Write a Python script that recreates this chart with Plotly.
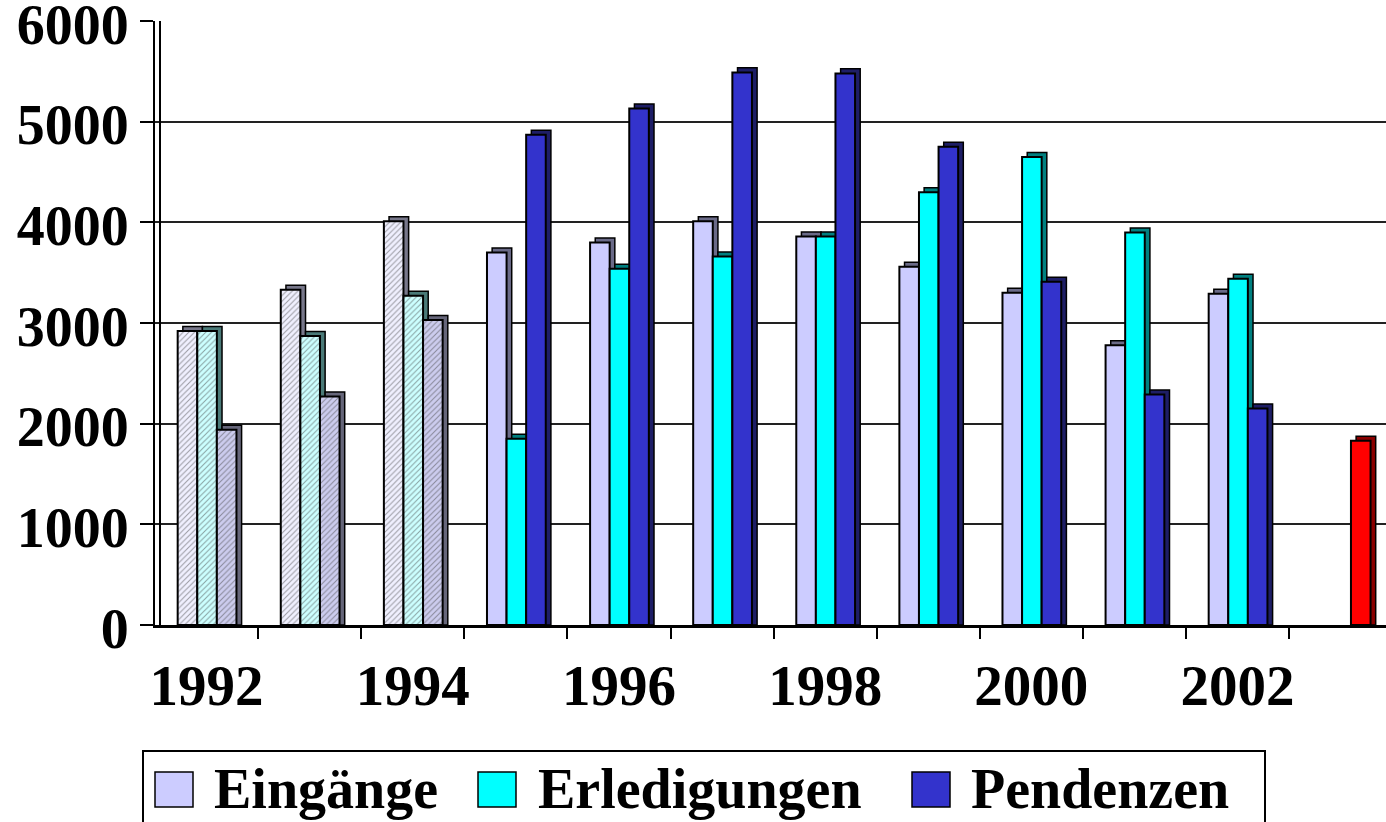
import plotly.graph_objects as go

# ---------------- data ----------------
years = [1992, 1993, 1994, 1995, 1996, 1997, 1998, 1999, 2000, 2001, 2002, 2003]
year_labels = ["1992", "1994", "1996", "1998", "2000", "2002"]
series_names = ["Eingänge", "Erledigungen", "Pendenzen"]
eingaenge = [2920, 3330, 4010, 3700, 3800, 4010, 3860, 3560, 3300, 2780, 3290, None]
erledigungen = [2920, 2870, 3270, 1850, 3540, 3660, 3860, 4300, 4650, 3900, 3440, None]
pendenzen = [1940, 2270, 3030, 4870, 5130, 5490, 5480, 4750, 3410, 2290, 2150, 1830]
y_ticks = [0, 1000, 2000, 3000, 4000, 5000, 6000]

# ---------------- layout constants (screen pixels) ----------------
W, H = 1386, 822
L, T, B = 155, 21, 625  # plot area edges
R = W
CAT_PX = 103.1
x_range = [years[0] - 0.5, years[0] - 0.5 + (R - L) / CAT_PX]
y_range = [0, 6000.5]
FONT = "Liberation Serif"
FS = 57
YFS = 56
LFS = 56

def px_x(px):
    return (px - L) / (R - L)

def px_y(py):
    return (B - py) / (B - T)

early = [y <= 1994 for y in years]

styles = [
    # front colour (early, late), side colour (early, late), hatch colour
    dict(front=("#F0F0FF", "#CCCCFF"), side=("#77778A", "#6A6A88"), hatch="#DCDCF4", offset=-0.28),
    dict(front=("#CCFFFF", "#00FFFF"), side=("#4A7A78", "#008080"), hatch="#B4F0F0", offset=-0.09),
    dict(front=("#CCCCEE", "#3333CC"), side=("#66667A", "#1E1E66"), hatch="#B8B8DC", offset=0.10),
]
special_front = {2003: "#FF0000"}
special_side = {2003: "#8A0000"}

BAR_W = 0.19
DX = 0.05
DY = 45

fig = go.Figure()
for name, vals, st in zip(series_names, [eingaenge, erledigungen, pendenzen], styles):
    fronts = [special_front.get(yr, st["front"][0] if e else st["front"][1]) for yr, e in zip(years, early)]
    sides = [special_side.get(yr, st["side"][0] if e else st["side"][1]) for yr, e in zip(years, early)]
    depth_vals = [v + DY if v is not None else None for v in vals]
    # depth (side + top face)
    fig.add_trace(go.Bar(
        x=years, y=depth_vals, width=BAR_W, offset=st["offset"] + DX,
        marker=dict(color=sides, line=dict(color="black", width=1.5)),
        showlegend=False, hoverinfo="skip",
    ))
    # front face
    fig.add_trace(go.Bar(
        x=years, y=vals, width=BAR_W, offset=st["offset"], name=name,
        marker=dict(
            color=fronts,
            line=dict(color="black", width=2),
            pattern=dict(shape=["/" if e else "" for e in early], fgcolor=st["hatch"],
                         size=4, solidity=0.25),
        ),
        showlegend=False,
    ))

# second vertical axis line (double line look)
shapes = [dict(type="line", xref="paper", yref="paper", x0=px_x(160), x1=px_x(160), y0=0, y1=1,
               line=dict(color="black", width=2), layer="above")]

# manual legend
legend_colors = [st["front"][1] for st in styles]
square_x = [155, 478, 912]
text_x = [213, 537, 970]
shapes.append(dict(type="rect", xref="paper", yref="paper",
                   x0=px_x(143), x1=px_x(1265), y0=px_y(751), y1=px_y(840),
                   line=dict(color="black", width=2), fillcolor="white", layer="below"))
annotations = []
for sx, tx, c, nm in zip(square_x, text_x, legend_colors, series_names):
    shapes.append(dict(type="rect", xref="paper", yref="paper",
                       x0=px_x(sx), x1=px_x(sx + 38), y0=px_y(772), y1=px_y(807),
                       line=dict(color="black", width=1.5), fillcolor=c))
    annotations.append(dict(x=px_x(tx), y=px_y(821), xref="paper", yref="paper",
                            text=nm, showarrow=False, xanchor="left", yanchor="bottom",
                            borderpad=0,
                            font=dict(family=FONT, size=LFS, color="black", weight="bold")))

fig.update_layout(
    width=W, height=H,
    margin=dict(l=L, r=0, t=T, b=H - B, pad=0, autoexpand=False),
    barmode="overlay",
    plot_bgcolor="white", paper_bgcolor="white",
    font=dict(family=FONT, size=FS, color="black", weight="bold"),
    shapes=shapes, annotations=annotations,
    showlegend=False,
)
fig.update_xaxes(
    range=x_range, tickmode="array", tickvals=[int(t) for t in year_labels], ticktext=year_labels,
    ticks="", showgrid=False, showline=True, linecolor="black", linewidth=3,
    ticklabelstandoff=9, automargin=False,
    tickfont=dict(family=FONT, size=FS, color="black", weight="bold"),
    minor=dict(tickmode="array", tickvals=[y + 0.5 for y in years], ticks="outside",
               ticklen=11, tickwidth=2, tickcolor="black", showgrid=False),
    zeroline=False,
)
fig.update_yaxes(
    range=y_range, tickmode="array", tickvals=y_ticks, ticks="outside", ticklen=13, tickwidth=2,
    tickcolor="black", showline=True, linecolor="black", linewidth=2, automargin=False,
    ticklabeloverflow="allow", ticklabelshift=3,
    showgrid=True, gridcolor="#222222", gridwidth=2, zeroline=False,
    tickfont=dict(family=FONT, size=YFS, color="black", weight="bold"),
)

fig.write_html("out.html", config={"displayModeBar": False},
               post_script="document.body.style.margin='0';document.body.style.overflow='hidden';")
